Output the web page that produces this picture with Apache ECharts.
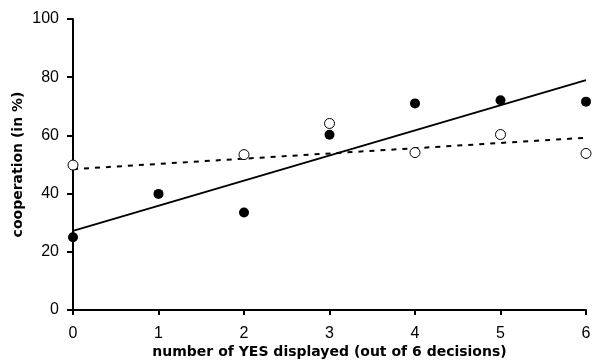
<!DOCTYPE html>
<html>
<head>
<meta charset="utf-8">
<script src="https://cdn.jsdelivr.net/npm/echarts@6/dist/echarts.min.js"></script>
<style>
  html, body { margin: 0; padding: 0; background: #fff; }
  #chart { width: 592px; height: 360px; }
</style>
</head>
<body>
<div id="chart"></div>
<script>
// data
const xValues = [0, 1, 2, 3, 4, 5, 6];
const filledValues = [25.0, 39.9, 33.5, 60.2, 71.0, 72.1, 71.6];
const openX = [0, 2, 3, 4, 5, 6];
const openValues = [49.8, 53.4, 64.1, 54.1, 60.3, 53.8];
const trendX = [0, 6];
const solidTrend = [27.2, 79.0];
const dashedTrend = [48.4, 59.2];
const yTicks = [0, 20, 40, 60, 80, 100];

const tickFont = 'Liberation Sans, Arial, sans-serif';
const titleFont = 'DejaVu Sans, sans-serif';

let chart = echarts.init(document.getElementById('chart'));
let option = {
    backgroundColor: '#fff',
    animation: false,
    grid: { left: 73, right: 6, top: 19, bottom: 50, outerBoundsMode: 'none' },
    xAxis: {
        type: 'value',
        min: 0, max: 6, interval: 1,
        name: 'number of YES displayed (out of 6 decisions)',
        nameLocation: 'middle',
        nameGap: 35,
        nameMoveOverlap: false,
        nameTextStyle: { fontFamily: titleFont, fontWeight: 'bold', fontSize: 14, color: '#000' },
        axisLine: { lineStyle: { color: '#000', width: 2 } },
        axisTick: { inside: false, length: 5, lineStyle: { color: '#000', width: 2 } },
        axisLabel: { margin: 16, fontFamily: tickFont, fontSize: 16, color: '#000' },
        splitLine: { show: false }
    },
    yAxis: {
        type: 'value',
        min: yTicks[0], max: yTicks[yTicks.length - 1], interval: 20,
        name: 'cooperation (in %)',
        nameLocation: 'middle',
        nameGap: 48,
        nameMoveOverlap: false,
        nameTextStyle: { fontFamily: titleFont, fontWeight: 'bold', fontSize: 14, color: '#000' },
        axisLine: { show: true, lineStyle: { color: '#000', width: 2 } },
        axisTick: { show: true, length: 6, lineStyle: { color: '#000', width: 2 } },
        axisLabel: { margin: 14, fontFamily: tickFont, fontSize: 16, color: '#000' },
        splitLine: { show: false }
    },
    series: [
        {
            type: 'line',
            data: trendX.map((x, i) => [x, solidTrend[i]]),
            symbol: 'none',
            lineStyle: { color: '#000', width: 2 },
            z: 2
        },
        {
            type: 'line',
            data: trendX.map((x, i) => [x, dashedTrend[i]]),
            symbol: 'none',
            lineStyle: { color: '#000', width: 2, type: [5, 6] },
            z: 2
        },
        {
            type: 'scatter',
            data: xValues.map((x, i) => [x, filledValues[i]]),
            symbol: 'circle',
            symbolSize: 10,
            itemStyle: { color: '#000', opacity: 1 },
            z: 3
        },
        {
            type: 'scatter',
            data: openX.map((x, i) => [x, openValues[i]]),
            symbol: 'circle',
            symbolSize: 10,
            itemStyle: { color: '#fff', borderColor: '#000', borderWidth: 1, opacity: 1 },
            z: 3
        }
    ]
};
chart.setOption(option);
</script>
</body>
</html>
